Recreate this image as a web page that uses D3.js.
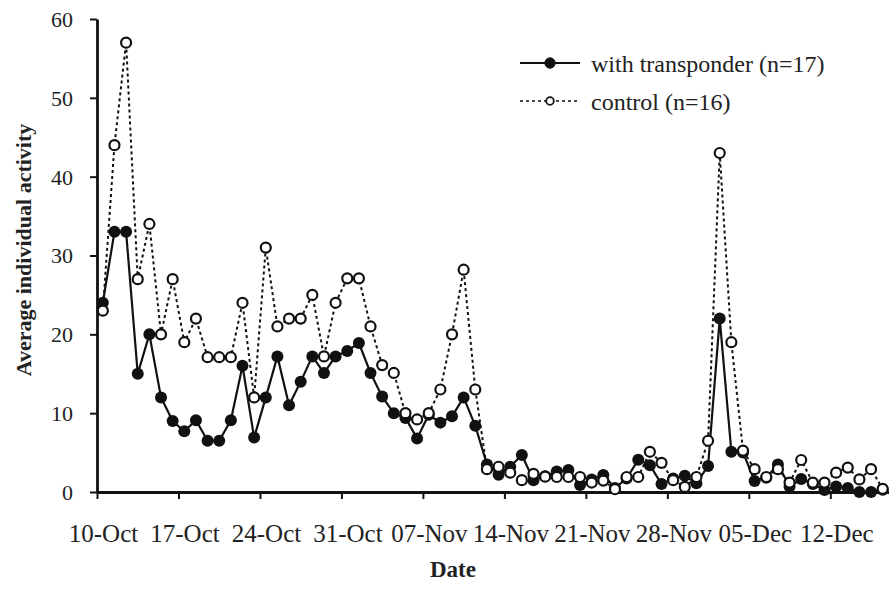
<!DOCTYPE html>
<html>
<head>
<meta charset="utf-8">
<script src="https://cdn.jsdelivr.net/npm/d3@7"></script>
<style>
  body { margin: 0; background: #fff; }
  svg { display: block; }
  text { font-family: "Liberation Serif", "Times New Roman", serif; fill: #222; }
</style>
</head>
<body>
<div id="chart"></div>
<script>
// daily averages, 10-Oct to 16-Dec
var startDay = new Date(2000, 9, 10);
var transponder = [24, 33, 33, 15, 20, 12, 9, 7.7, 9.1, 6.5, 6.5, 9.1, 16, 6.9, 12, 17.2, 11, 14, 17.2, 15.1,
  17.2, 17.9, 18.9, 15.1, 12.1, 10, 9.4, 6.8, 9.8, 8.8, 9.6, 12, 8.4, 3.5, 2.2, 3.2, 4.7, 1.5, 2, 2.6,
  2.8, 0.9, 1.6, 2.15, 0.5, 1.7, 4.1, 3.4, 1, 1.7, 2.05, 1.1, 3.3, 22, 5.1, 5, 1.4, 1.8, 3.5, 0.7,
  1.65, 1, 0.25, 0.7, 0.5, 0, 0, 0.3];
var control = [23, 44, 57, 27, 34, 20, 27, 19, 22, 17.1, 17.1, 17.1, 24, 12, 31, 21, 22, 22, 25, 17.2,
  24, 27.1, 27.1, 21, 16.1, 15.1, 10, 9.2, 10, 13, 20, 28.2, 13, 2.9, 3.2, 2.45, 1.5, 2.3, 1.95, 1.9,
  1.9, 1.9, 1.2, 1.45, 0.35, 1.9, 1.9, 5.1, 3.7, 1.5, 0.65, 1.9, 6.5, 43, 19, 5.25, 2.9, 1.9, 2.9, 1.2,
  4.06, 1.2, 1.2, 2.45, 3.1, 1.6, 2.9, 0.4];
var yTicks = [0, 10, 20, 30, 40, 50, 60];
var legendLabels = ["with transponder (n=17)", "control (n=16)"];

var w = 889, h = 589;
var plotLeft = 97, plotRight = 888.5, plotTop = 19, plotBottom = 492;

var svg = d3.select("#chart").append("svg")
  .attr("width", w)
  .attr("height", h);

var x = d3.scaleTime()
  .domain([startDay, d3.timeDay.offset(startDay, transponder.length)])
  .range([plotLeft, plotRight]);
var y = d3.scaleLinear().domain([0, 60]).range([plotBottom, plotTop]);

// points sit in the middle of each day
function dayMid(i) {
  return d3.timeHour.offset(d3.timeDay.offset(startDay, i), 12);
}

var xTicks = d3.timeDay.range(startDay, d3.timeDay.offset(startDay, 64), 7);

var xAxis = svg.append("g")
  .attr("transform", "translate(0," + plotBottom + ")")
  .call(d3.axisBottom(x).tickValues(xTicks).tickSize(7).tickSizeOuter(0)
    .tickFormat(d3.timeFormat("%d-%b")));
xAxis.selectAll("text")
  .attr("font-size", "25px")
  .attr("dx", 6)
  .attr("y", 32);

var yAxis = svg.append("g")
  .attr("transform", "translate(" + plotLeft + ",0)")
  .call(d3.axisLeft(y).tickValues(yTicks).tickSize(7).tickSizeOuter(0));
yAxis.selectAll("text")
  .attr("font-size", "22px")
  .attr("x", -24)
  .attr("dy", "0.34em");

svg.selectAll(".domain").attr("stroke", "#111").attr("stroke-width", 2.8);
svg.selectAll(".tick line").attr("stroke", "#111").attr("stroke-width", 2);
svg.selectAll(".tick text").attr("font-family", "Liberation Serif").attr("fill", "#222");

var line = d3.line()
  .x(function(d, i) { return x(dayMid(i)); })
  .y(function(d) { return y(d); });

svg.append("path")
  .datum(transponder)
  .attr("d", line)
  .attr("fill", "none")
  .attr("stroke", "#111")
  .attr("stroke-width", 2.2);

svg.selectAll("circle.tr")
  .data(transponder)
  .enter()
  .append("circle")
  .attr("class", "tr")
  .attr("cx", function(d, i) { return x(dayMid(i)); })
  .attr("cy", function(d) { return y(d); })
  .attr("r", 6)
  .attr("fill", "#111");

svg.append("path")
  .datum(control)
  .attr("d", line)
  .attr("fill", "none")
  .attr("stroke", "#111")
  .attr("stroke-width", 2)
  .attr("stroke-dasharray", "3,3");

svg.selectAll("circle.co")
  .data(control)
  .enter()
  .append("circle")
  .attr("class", "co")
  .attr("cx", function(d, i) { return x(dayMid(i)); })
  .attr("cy", function(d) { return y(d); })
  .attr("r", 5)
  .attr("fill", "#fff")
  .attr("stroke", "#111")
  .attr("stroke-width", 2.2);

// legend
var legend = svg.append("g");
legendLabels.forEach(function(label, i) {
  var ly = 63 + i * 38;
  legend.append("line")
    .attr("x1", 520).attr("x2", 580)
    .attr("y1", ly).attr("y2", ly)
    .attr("stroke", "#111")
    .attr("stroke-width", i === 0 ? 2 : 1.6)
    .attr("stroke-dasharray", i === 0 ? null : "3,3");
  legend.append("circle")
    .attr("cx", 550).attr("cy", ly)
    .attr("r", i === 0 ? 5.2 : 3.8)
    .attr("fill", i === 0 ? "#111" : "#fff")
    .attr("stroke", "#111")
    .attr("stroke-width", i === 0 ? 1 : 1.8);
  legend.append("text")
    .attr("x", 591)
    .attr("y", ly + 9)
    .attr("font-size", "24px")
    .text(label);
});

// axis titles
svg.append("text")
  .attr("x", 453)
  .attr("y", 577)
  .attr("text-anchor", "middle")
  .attr("font-size", "23px")
  .attr("font-weight", "bold")
  .text("Date");

svg.append("text")
  .attr("transform", "translate(31,250) rotate(-90)")
  .attr("text-anchor", "middle")
  .attr("font-size", "22px")
  .attr("font-weight", "bold")
  .text("Average individual activity");
</script>
</body>
</html>
